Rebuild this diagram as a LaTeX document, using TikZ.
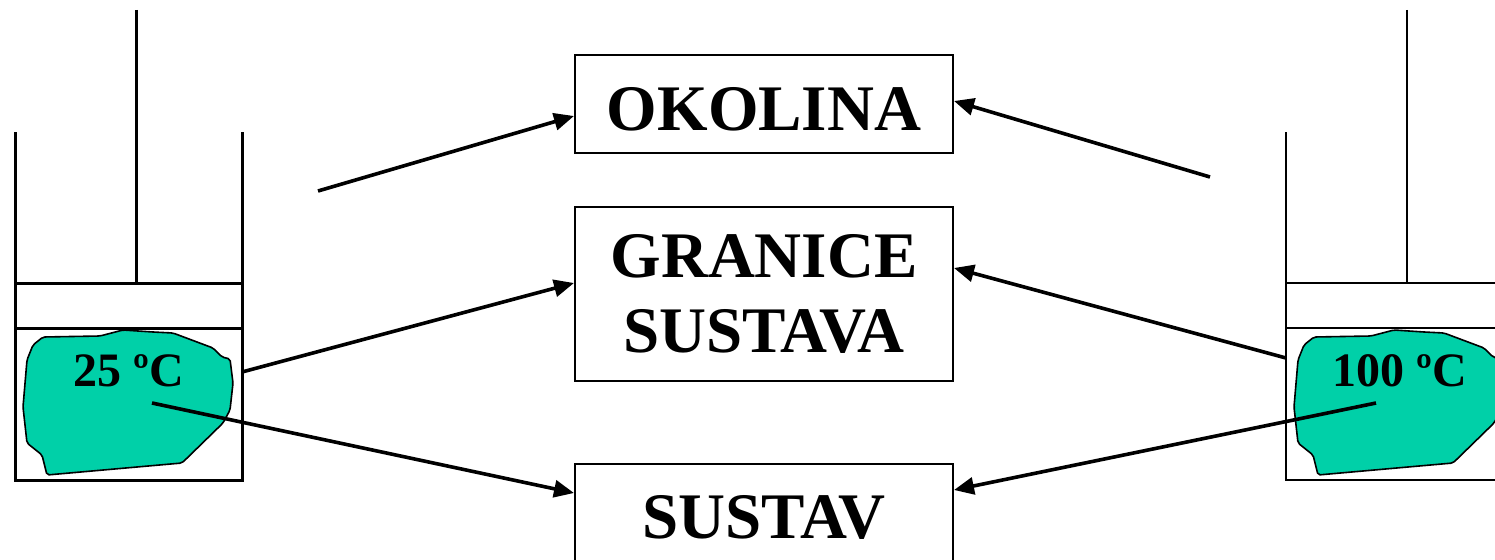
\documentclass[tikz,border=0pt]{standalone}
\usepackage{fontspec}
\setmainfont{Liberation Serif}
\usetikzlibrary{arrows.meta}
\definecolor{gas}{RGB}{0,208,168}
\tikzset{
  label box/.style={draw, line width=2pt, minimum width=378pt, inner sep=0pt,
    align=center, font=\fontsize{65}{75}\selectfont\bfseries},
  heat/.style={line width=3.6pt, -{Triangle[length=20pt,width=17pt]}},
  wall/.style={line width=3pt},
  thinwall/.style={line width=2pt},
  gasblob/.style={fill=gas, draw=black, line width=1.6pt, rounded corners=2pt},
  temp/.style={font=\fontsize{48}{48}\selectfont\bfseries, anchor=base, inner sep=0pt}
}
\begin{document}
\begin{tikzpicture}[x=1pt, y=-1pt]
  \useasboundingbox (0,0) rectangle (1495,559);
  \clip (0,0) rectangle (1495,559);

  % cold cylinder with piston
  \draw[wall] (15,132) -- (15,480) -- (242,480) -- (242,132);
  \draw[wall] (15,283) -- (242,283) (15,328) -- (242,328);
  \draw[wall] (136,10) -- (136,283);
  \draw[gasblob] (43,337) -- (100,336) -- (123,330) -- (153,332) -- (173,333)
    -- (213,348) -- (222,357) -- (230,359) -- (233,383) -- (230,410)
    -- (223,423) -- (182,463) -- (47,475) -- (42,455) -- (27,443)
    -- (23,407) -- (27,360) -- (33,345) -- cycle;
  \node[temp] (cold) at (129,386) {25 ºC};

  % hot cylinder with piston
  \draw[thinwall] (1286,132) -- (1286,480) -- (1500,480);
  \draw[thinwall] (1286,283) -- (1500,283) (1286,328) -- (1500,328);
  \draw[thinwall] (1407,10) -- (1407,283);
  \begin{scope}[xshift=1271pt]
    \draw[gasblob] (43,337) -- (100,336) -- (123,330) -- (153,332) -- (173,333)
      -- (213,348) -- (222,357) -- (230,359) -- (233,383) -- (230,410)
      -- (223,423) -- (182,463) -- (47,475) -- (42,455) -- (27,443)
      -- (23,407) -- (27,360) -- (33,345) -- cycle;
  \end{scope}
  \node[temp] (hot) at (1400,386) {100 ºC};

  % labels
  \node[label box, minimum height=98pt, text height=52pt, text depth=0pt] (okolina) at (764,104) {OKOLINA};
  \node[label box, minimum height=174pt] (granice) at (764,294) {GRANICE\\SUSTAVA};
  \node[label box, minimum height=104pt, text height=44pt, text depth=0pt] (sustav) at (764,516) {SUSTAV};

  % start points of the arrows
  \coordinate (c1) at (318,191);
  \coordinate (c2) at (242,372);
  \coordinate (c3) at (152,403);
  \coordinate (h1) at (1210,177);
  \coordinate (h2) at (1286,358);
  \coordinate (h3) at (1376,403);

  \draw[heat] (c1) -- ([yshift=-12pt]okolina.west);
  \draw[heat] (c2) -- ([yshift=11pt]granice.west);
  \draw[heat] (c3) -- ([yshift=23pt]sustav.west);
  \draw[heat] (h1) -- ([yshift=3pt]okolina.east);
  \draw[heat] (h2) -- ([yshift=26pt]granice.east);
  \draw[heat] (h3) -- ([yshift=26pt]sustav.east);
\end{tikzpicture}
\end{document}
